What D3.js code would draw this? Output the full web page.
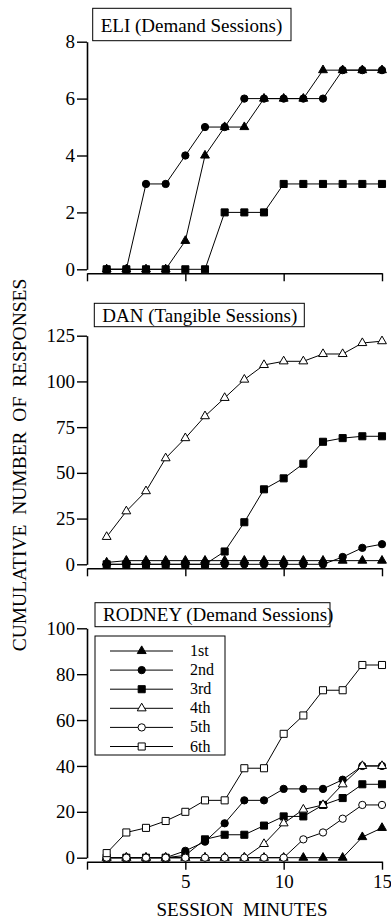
<!DOCTYPE html>
<html>
<head>
<meta charset="utf-8">
<script src="https://cdn.jsdelivr.net/npm/d3@7"></script>
<style>
    body { margin: 0; background: #fff; }
    svg { display: block; font-family: "Liberation Serif", "DejaVu Serif", serif; }
</style>
</head>
<body>
<svg id="chart"></svg>
<script>
"use strict";

// session minutes on the x axis
var minutes = [1, 2, 3, 4, 5, 6, 7, 8, 9, 10, 11, 12, 13, 14, 15];
var minuteTicks = [0, 5, 10, 15];
var minuteLabels = [5, 10, 15];

var sessionNames = ["1st", "2nd", "3rd", "4th", "5th", "6th"];

// ELI (demand)
var eliFirst  = [0, 0, 0, 0, 1, 4, 5, 5, 6, 6, 6, 7, 7, 7, 7];
var eliSecond = [0, 0, 3, 3, 4, 5, 5, 6, 6, 6, 6, 6, 7, 7, 7];
var eliThird  = [0, 0, 0, 0, 0, 0, 2, 2, 2, 3, 3, 3, 3, 3, 3];
var eliTicks = [0, 2, 4, 6, 8];

// DAN (tangible)
var danFirst  = [1, 2, 2, 2, 2, 2, 2, 2, 2, 2, 2, 2, 2, 2, 2];
var danSecond = [0, 0, 0, 0, 0, 0, 0, 0, 0, 0, 0, 0, 4, 9, 11];
var danThird  = [0, 0, 0, 0, 0, 0, 7, 23, 41, 47, 55, 67, 69, 70, 70];
var danFourth = [15, 29, 40, 58, 69, 81, 91, 101, 109, 111, 111, 115, 115, 121, 122];
var danTicks = [0, 25, 50, 75, 100, 125];

// RODNEY (demand)
var rodFirst  = [0, 0, 0, 0, 0, 0, 0, 0, 0, 0, 0, 0, 0, 9, 13];
var rodSecond = [0, 0, 0, 0, 3, 7, 15, 25, 25, 30, 30, 30, 34, 40, 40];
var rodThird  = [0, 0, 0, 0, 1, 8, 10, 10, 14, 18, 18, 23, 26, 32, 32];
var rodFourth = [0, 0, 0, 0, 0, 0, 0, 0, 6, 15, 21, 23, 32, 40, 40];
var rodFifth  = [0, 0, 0, 0, 0, 0, 0, 0, 0, 0, 8, 11, 17, 23, 23];
var rodSixth  = [2, 11, 13, 16, 20, 25, 25, 39, 39, 54, 62, 73, 73, 84, 84];
var rodTicks = [0, 20, 40, 60, 80, 100];

// marker per session: shape + filled
var markers = [
    { shape: d3.symbolTriangle, size: 34, fill: "#000" },
    { shape: d3.symbolCircle, size: 42, fill: "#000" },
    { shape: d3.symbolSquare, size: 50, fill: "#000" },
    { shape: d3.symbolTriangle, size: 34, fill: "#fff" },
    { shape: d3.symbolCircle, size: 42, fill: "#fff" },
    { shape: d3.symbolSquare, size: 50, fill: "#fff" }
];

var width = 391, height = 923;
var svg = d3.select("#chart").attr("width", width).attr("height", height);

var x = d3.scaleLinear().domain([0, 15]).range([87, 382]);

var panels = [
    { title: "ELI (Demand Sessions)", series: [eliFirst, eliSecond, eliThird], ticks: eliTicks,
      yRange: [269.3, 41.7], box: [92.7, 8.3, 198.3, 32.4], titleY: 31.5 },
    { title: "DAN (Tangible Sessions)", series: [danFirst, danSecond, danThird, danFourth], ticks: danTicks,
      yRange: [564.3, 335.7], box: [94.3, 303.3, 210, 23.4], titleY: 321.5 },
    { title: "RODNEY (Demand Sessions)", series: [rodFirst, rodSecond, rodThird, rodFourth, rodFifth, rodSixth], ticks: rodTicks,
      yRange: [857.7, 628.3], box: [95, 602.7, 235, 24], titleY: 620.5, xLabels: true }
];

panels.forEach(function(p) {
    var y = d3.scaleLinear().domain([0, d3.max(p.ticks)]).range(p.yRange);
    var g = svg.append("g");

    // y axis
    g.append("g")
        .attr("transform", "translate(" + x(0) + ",0)")
        .call(d3.axisLeft(y).tickValues(p.ticks).tickSize(10).tickPadding(2).tickSizeOuter(0))
        .call(a => a.select(".domain").attr("stroke-width", 1.6))
        .call(a => a.selectAll(".tick line").attr("stroke-width", 1.4))
        .call(a => a.selectAll("text").attr("font-size", 19).attr("font-family", "Liberation Serif").attr("fill", "#000"));

    // x axis, sitting a little below the zero line
    var x0 = p.yRange[0] + 4;
    var xa = g.append("g")
        .attr("transform", "translate(0," + x0 + ")")
        .call(d3.axisBottom(x).tickValues(minuteTicks).tickSize(8).tickPadding(5).tickSizeOuter(0)
            .tickFormat(d => (p.xLabels && minuteLabels.indexOf(d) >= 0) ? d : ""))
        .call(a => a.select(".domain").attr("stroke-width", 1.6))
        .call(a => a.selectAll(".tick line").attr("stroke-width", 1.4))
        .call(a => a.selectAll("text").attr("font-size", 19).attr("font-family", "Liberation Serif").attr("fill", "#000"));

    var line = d3.line().x((d, i) => x(minutes[i])).y(d => y(d));

    p.series.forEach(function(vals, k) {
        g.append("path")
            .datum(vals)
            .attr("d", line)
            .attr("fill", "none")
            .attr("stroke", "#000")
            .attr("stroke-width", 1);
    });
    p.series.forEach(function(vals, k) {
        var m = markers[k];
        g.selectAll(null)
            .data(vals)
            .enter()
            .append("path")
            .attr("d", d3.symbol().type(m.shape).size(m.size))
            .attr("transform", (d, i) => "translate(" + x(minutes[i]) + "," + y(d) + ")")
            .attr("fill", m.fill)
            .attr("stroke", "#000")
            .attr("stroke-width", 1);
    });

    // title box
    g.append("rect")
        .attr("x", p.box[0]).attr("y", p.box[1])
        .attr("width", p.box[2]).attr("height", p.box[3])
        .attr("fill", "#fff").attr("stroke", "#000").attr("stroke-width", 1);
    g.append("text")
        .attr("x", p.box[0] + 8).attr("y", p.titleY)
        .attr("font-size", 19)
        .text(p.title);
});

// legend inside the RODNEY panel
var legend = svg.append("g");
legend.append("rect")
    .attr("x", 95).attr("y", 636).attr("width", 130).attr("height", 119)
    .attr("fill", "#fff").attr("stroke", "#000").attr("stroke-width", 1);
sessionNames.forEach(function(name, i) {
    var ly = 651 + i * 19.1;
    var m = markers[i];
    legend.append("line")
        .attr("x1", 110).attr("x2", 173).attr("y1", ly).attr("y2", ly)
        .attr("stroke", "#000").attr("stroke-width", 1);
    legend.append("path")
        .attr("d", d3.symbol().type(m.shape).size(m.size))
        .attr("transform", "translate(141.7," + ly + ")")
        .attr("fill", m.fill).attr("stroke", "#000").attr("stroke-width", 1);
    legend.append("text")
        .attr("x", 190).attr("y", ly + 5)
        .attr("font-size", 16)
        .text(name);
});

// axis titles
svg.append("text")
    .attr("transform", "translate(26,465) rotate(-90)")
    .attr("text-anchor", "middle")
    .attr("font-size", 19.5)
    .style("white-space", "pre")
    .text("CUMULATIVE  NUMBER  OF  RESPONSES");

svg.append("text")
    .attr("x", 242).attr("y", 916)
    .attr("text-anchor", "middle")
    .attr("font-size", 19)
    .style("white-space", "pre")
    .text("SESSION  MINUTES");
</script>
</body>
</html>
